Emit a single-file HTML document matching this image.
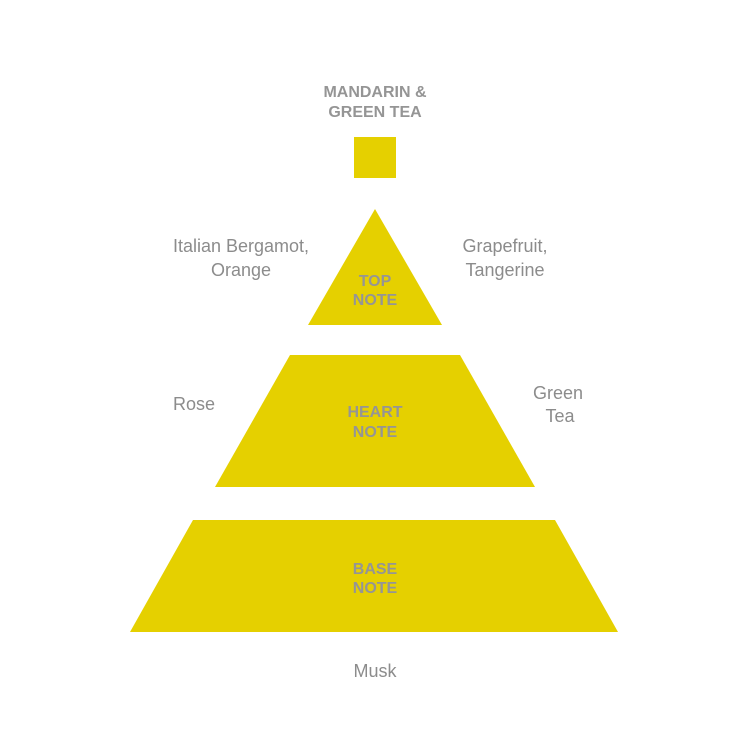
<!DOCTYPE html>
<html><head><style>
body{margin:0;background:#fff;}
svg text{font-family:"Liberation Sans",Arial,sans-serif;}
</style></head><body>
<svg width="750" height="750" viewBox="0 0 750 750">
<rect width="750" height="750" fill="#fff"/>
<g fill="#e5d000">
<rect x="354" y="137" width="42" height="41"/>
<polygon points="375,209 308,325 442,325"/>
<polygon points="290,355 460,355 535,487 215,487"/>
<polygon points="193,520 555,520 618,632 130,632"/>
</g>
<g fill="#959595" font-weight="bold" font-size="16" text-anchor="middle">
<text x="375" y="97">MANDARIN &amp;</text>
<text x="375" y="117">GREEN TEA</text>
<text x="375" y="286">TOP</text>
<text x="375" y="305">NOTE</text>
<text x="375" y="417">HEART</text>
<text x="375" y="437">NOTE</text>
<text x="375" y="574">BASE</text>
<text x="375" y="593">NOTE</text>
</g>
<g fill="#8c8c8c" font-size="18" text-anchor="middle">
<text x="241" y="252">Italian Bergamot,</text>
<text x="241" y="276">Orange</text>
<text x="505" y="252">Grapefruit,</text>
<text x="505" y="276">Tangerine</text>
<text x="194" y="410">Rose</text>
<text x="558" y="399">Green</text>
<text x="560" y="422">Tea</text>
<text x="375" y="677">Musk</text>
</g>
</svg>
</body></html>
